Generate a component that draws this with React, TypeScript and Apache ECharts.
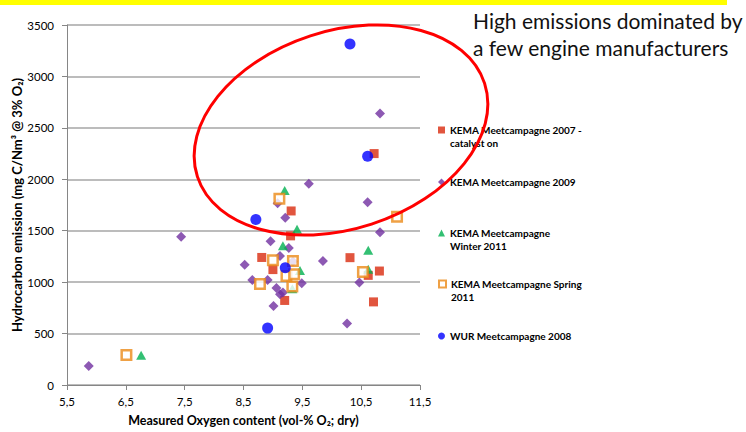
import React, { useEffect, useRef } from "react";
import * as echarts from "echarts";

const xTickLabels = ["5,5", "6,5", "7,5", "8,5", "9,5", "10,5", "11,5"];
const yTicks = [0, 500, 1000, 1500, 2000, 2500, 3000, 3500];

const seriesNames = [
  "KEMA Meetcampagne 2007 -\ncatalyst on",
  "KEMA Meetcampagne 2009",
  "KEMA Meetcampagne\nWinter 2011",
  "KEMA Meetcampagne Spring\n2011",
  "WUR Meetcampagne 2008",
];

const kema2007: [number, number][] = [
  [10.72, 2250], [9.31, 1692], [9.3, 1450], [8.81, 1240], [9.0, 1122],
  [10.31, 1238], [10.62, 1066], [10.81, 1108], [10.71, 808], [9.2, 822],
];

const kema2009: [number, number][] = [
  [5.87, 185], [7.44, 1442], [10.82, 2640], [9.61, 1956], [9.08, 1768],
  [9.21, 1626], [10.61, 1777], [10.82, 1485], [8.96, 1397], [9.27, 1332],
  [9.12, 1255], [8.52, 1170], [9.34, 1200], [9.85, 1205], [8.65, 1020],
  [8.91, 1020], [9.06, 942], [9.49, 990], [9.12, 882], [9.17, 900],
  [9.01, 768], [10.47, 996], [10.26, 598],
];

const kemaWinter2011: [number, number][] = [
  [6.76, 290], [9.2, 1890], [9.41, 1515], [9.17, 1355], [9.46, 1112],
  [9.33, 935], [10.62, 1310], [10.62, 1125],
];

const kemaSpring2011: [number, number][] = [
  [6.51, 291], [9.11, 1810], [11.11, 1636], [9.0, 1212], [9.34, 1205],
  [9.23, 1060], [9.36, 1076], [8.78, 983], [9.33, 957], [10.53, 1099],
];

const wur2008: [number, number][] = [
  [10.31, 3316], [10.61, 2223], [8.71, 1609], [9.21, 1141], [8.91, 553],
];

const titleLines = ["High emissions dominated by", "a few engine manufacturers"];

const FONT = 'Lato, "DejaVu Sans", sans-serif';

export default function App() {
  const ref = useRef<HTMLDivElement>(null);
  useEffect(() => {
    if (!ref.current) return;
    const chart = echarts.init(ref.current, undefined, { renderer: "svg" });
    const legendText = {
      fontFamily: FONT,
      fontWeight: "bold" as const,
      fontSize: 10,
      lineHeight: 13,
      color: "#000",
    };
    const legendTops = [110.5, 175.5, 213.5, 264.5, 329.5];
    const legends = seriesNames.map((n, i) => ({
      data: [n],
      left: 438,
      top: legendTops[i],
      orient: "vertical",
      padding: 0,
      itemGap: 0,
      itemWidth: 7,
      itemHeight: 7,
      selectedMode: false,
      formatter: (name: string) => (name.indexOf("\n") >= 0 ? " \n" + name : name),
      textStyle: legendText,
    }));
    chart.setOption({
      animation: false,
      backgroundColor: "#fff",
      grid: { left: 67, right: 326, top: 25, bottom: 46 },
      legend: legends,
      xAxis: {
        type: "value",
        min: 5.5,
        max: 11.5,
        interval: 1,
        name: "Measured Oxygen content (vol-% O₂; dry)",
        nameLocation: "middle",
        nameGap: 29,
        nameTextStyle: { fontFamily: FONT, fontWeight: "bold", fontSize: 12.5, color: "#000" },
        axisLine: { show: true, lineStyle: { color: "#868686", width: 1 } },
        axisTick: { show: true, length: 5, lineStyle: { color: "#868686" } },
        splitLine: { show: false },
        axisLabel: {
          fontFamily: FONT,
          fontSize: 11.5,
          color: "#000",
          margin: 10,
          formatter: (v: number) => {
            const idx = Math.round(v - 5.5);
            return xTickLabels[idx] ?? String(v);
          },
        },
      },
      yAxis: {
        type: "value",
        min: yTicks[0],
        max: yTicks[yTicks.length - 1],
        interval: 500,
        name: "Hydrocarbon emission (mg C/Nm³ @ 3% O₂)",
        nameLocation: "middle",
        nameGap: 42,
        nameTextStyle: { fontFamily: FONT, fontWeight: "bold", fontSize: 13, color: "#000" },
        axisLine: { show: true, lineStyle: { color: "#868686", width: 1 } },
        axisTick: { show: true, length: 5, lineStyle: { color: "#868686" } },
        splitLine: { show: true, lineStyle: { color: "#A6A6A6", width: 1.5 } },
        axisLabel: {
          fontFamily: FONT,
          fontSize: 11.5,
          color: "#000",
          margin: 13,
          formatter: (v: number) => String(v),
        },
      },
      series: [
        {
          name: seriesNames[0],
          type: "scatter",
          data: kema2007,
          symbol: "rect",
          symbolSize: 9,
          itemStyle: { color: "#DA2A0E" },
          z: 2,
        },
        {
          name: seriesNames[1],
          type: "scatter",
          data: kema2009,
          symbol: "diamond",
          symbolSize: [10, 10],
          itemStyle: { color: "#7030A0" },
          z: 3,
        },
        {
          name: seriesNames[2],
          type: "scatter",
          data: kemaWinter2011,
          symbol: "triangle",
          symbolSize: [10, 9],
          itemStyle: { color: "#00B050" },
          z: 4,
        },
        {
          name: seriesNames[3],
          type: "scatter",
          data: kemaSpring2011,
          symbol: "rect",
          symbolSize: 9.5,
          itemStyle: { color: "#FFFFFF", borderColor: "#EB8A17", borderWidth: 2.5 },
          z: 5,
        },
        {
          name: seriesNames[4],
          type: "scatter",
          data: wur2008,
          symbol: "circle",
          symbolSize: 11,
          itemStyle: { color: "#0000FF" },
          z: 6,
        },
      ],
      graphic: [
        {
          type: "rect",
          left: 0,
          top: 0,
          shape: { x: 0, y: 0, width: 727, height: 5 },
          style: { fill: "#FFFF00" },
          z: 10,
        },
        {
          type: "ellipse",
          x: 341,
          y: 130,
          rotation: (18 * Math.PI) / 180,
          shape: { cx: 0, cy: 0, rx: 151, ry: 99 },
          style: { fill: "none", stroke: "#FF0000", lineWidth: 3 },
          z: 20,
        },
        {
          type: "text",
          x: 473,
          y: 7,
          style: {
            text: titleLines.join("\n"),
            fontFamily: FONT,
            fontSize: 21,
            lineHeight: 27,
            fill: "#111",
          },
          z: 10,
        },
      ],
    });
    return () => chart.dispose();
  }, []);
  return (
    <div
      ref={ref}
      style={{ position: "fixed", left: 0, top: 0, width: 746, height: 432 }}
    />
  );
}
